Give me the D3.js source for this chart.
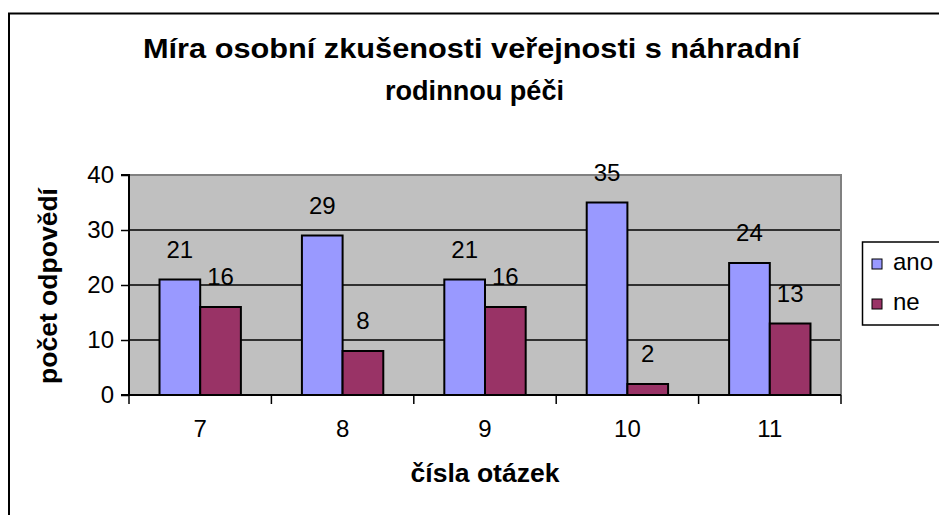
<!DOCTYPE html>
<html>
<head>
<meta charset="utf-8">
<script src="https://cdn.jsdelivr.net/npm/d3@7"></script>
<style>
  html, body { margin: 0; padding: 0; background: #ffffff; }
  svg { display: block; }
  text { font-family: "Liberation Sans", Arial, sans-serif; fill: #000; }
</style>
</head>
<body>
<svg id="chart" width="939" height="515"></svg>
<script>
const categories = ["7", "8", "9", "10", "11"];
const seriesNames = ["ano", "ne"];
const anoValues = [21, 29, 21, 35, 24];
const neValues = [16, 8, 16, 2, 13];
const yTicks = [0, 10, 20, 30, 40];
const titleLines = ["Míra osobní zkušenosti veřejnosti s náhradní", "rodinnou péči"];
const xTitle = "čísla otázek";
const yTitle = "počet odpovědí";
const colors = ["#9999FF", "#993366"];

const svg = d3.select("#chart");
const plot = { left: 129, right: 841, top: 175, bottom: 395 };

// outer chart border
svg.append("rect").attr("x", 9).attr("y", 13.5).attr("width", 960).attr("height", 540)
  .attr("fill", "#fff").attr("stroke", "#000").attr("stroke-width", 2);

// title
svg.append("text").attr("x", 471.5).attr("y", 58).attr("text-anchor", "middle")
  .attr("font-size", 28).attr("font-weight", "bold")
  .attr("textLength", 657).attr("lengthAdjust", "spacingAndGlyphs").text(titleLines[0]);
svg.append("text").attr("x", 474.5).attr("y", 100).attr("text-anchor", "middle")
  .attr("font-size", 28).attr("font-weight", "bold")
  .attr("textLength", 179).attr("lengthAdjust", "spacingAndGlyphs").text(titleLines[1]);

const x0 = d3.scaleBand().domain(categories).range([plot.left, plot.right]).paddingInner(0).paddingOuter(0);
const barW = x0.bandwidth() / 3.5;
const x1 = d3.scaleBand().domain(seriesNames).range([0, barW * 2]);
const y = d3.scaleLinear().domain([0, 40]).range([plot.bottom, plot.top]);

// plot background
svg.append("rect").attr("x", plot.left).attr("y", plot.top)
  .attr("width", plot.right - plot.left).attr("height", plot.bottom - plot.top)
  .attr("fill", "#C0C0C0");

// gridlines
svg.append("g").selectAll("line").data(yTicks.filter(d => d > 0 && d < 40)).join("line")
  .attr("x1", plot.left).attr("x2", plot.right)
  .attr("y1", d => y(d)).attr("y2", d => y(d))
  .attr("stroke", "#000").attr("stroke-width", 1.5);

// plot border top/right grey
svg.append("path")
  .attr("d", `M${plot.left},${plot.top}H${plot.right}V${plot.bottom}`)
  .attr("fill", "none").attr("stroke", "#808080").attr("stroke-width", 2);

// bars
const data = categories.map((c, i) => ({ cat: c, vals: [anoValues[i], neValues[i]] }));
const groups = svg.append("g").selectAll("g").data(data).join("g")
  .attr("transform", d => `translate(${x0(d.cat) + (x0.bandwidth() - barW * 2) / 2},0)`);
groups.selectAll("rect").data(d => d.vals.map((v, j) => ({ name: seriesNames[j], v, j }))).join("rect")
  .attr("x", d => x1(d.name)).attr("width", x1.bandwidth())
  .attr("y", d => y(d.v)).attr("height", d => y(0) - y(d.v))
  .attr("fill", d => colors[d.j]).attr("stroke", "#000").attr("stroke-width", 2);
groups.selectAll("text").data(d => d.vals.map((v, j) => ({ name: seriesNames[j], v, j }))).join("text")
  .attr("x", d => x1(d.name) + x1.bandwidth() / 2).attr("y", d => y(d.v) - 22)
  .attr("text-anchor", "middle").attr("font-size", 24).text(d => d.v);

// y axis
const yAxis = d3.axisLeft(y).tickValues(yTicks).tickSize(8).tickPadding(7).tickFormat(d3.format("d"));
const gy = svg.append("g").attr("transform", `translate(${plot.left},0)`).call(yAxis);
gy.select(".domain").attr("stroke", "#000").attr("stroke-width", 2).attr("d", `M-8,${plot.bottom}H0V${plot.top}H-8`);
gy.selectAll(".tick line").attr("stroke", "#000").attr("stroke-width", 1.5);
gy.selectAll(".tick text").attr("font-size", 24).attr("font-family", "Liberation Sans, Arial, sans-serif").attr("fill", "#000");

// x axis with ticks at category boundaries
const gx = svg.append("g").attr("transform", `translate(0,${plot.bottom})`);
gx.append("line").attr("x1", plot.left).attr("x2", plot.right).attr("stroke", "#000").attr("stroke-width", 2);
const boundaries = categories.map(c => x0(c)).concat([x0(categories[categories.length - 1]) + x0.bandwidth()]);
gx.selectAll("line.tk").data(boundaries).join("line").attr("class", "tk")
  .attr("x1", d => d).attr("x2", d => d).attr("y1", 0).attr("y2", 9)
  .attr("stroke", "#000").attr("stroke-width", 1.5);
gx.selectAll("text").data(categories).join("text")
  .attr("x", d => x0(d) + x0.bandwidth() / 2).attr("y", 42)
  .attr("text-anchor", "middle").attr("font-size", 24).text(d => d);

// axis titles
svg.append("text").attr("x", 485).attr("y", 482).attr("text-anchor", "middle")
  .attr("font-size", 25).attr("font-weight", "bold")
  .attr("textLength", 149).attr("lengthAdjust", "spacingAndGlyphs").text(xTitle);
svg.append("text").attr("transform", "translate(57,286) rotate(-90)").attr("text-anchor", "middle")
  .attr("font-size", 25).attr("font-weight", "bold")
  .attr("textLength", 196).attr("lengthAdjust", "spacingAndGlyphs").text(yTitle);

// legend
const lg = svg.append("g");
lg.append("rect").attr("x", 862.5).attr("y", 242).attr("width", 100).attr("height", 83)
  .attr("fill", "#fff").attr("stroke", "#000").attr("stroke-width", 1.5);
const items = lg.selectAll("g").data(seriesNames).join("g")
  .attr("transform", (d, i) => `translate(0,${i * 40})`);
items.append("rect").attr("x", 872).attr("y", 259).attr("width", 10).attr("height", 10)
  .attr("fill", (d, i) => colors[i]).attr("stroke", "#000").attr("stroke-width", 1);
items.append("text").attr("x", 893).attr("y", 270).attr("font-size", 24).text(d => d);
</script>
</body>
</html>
